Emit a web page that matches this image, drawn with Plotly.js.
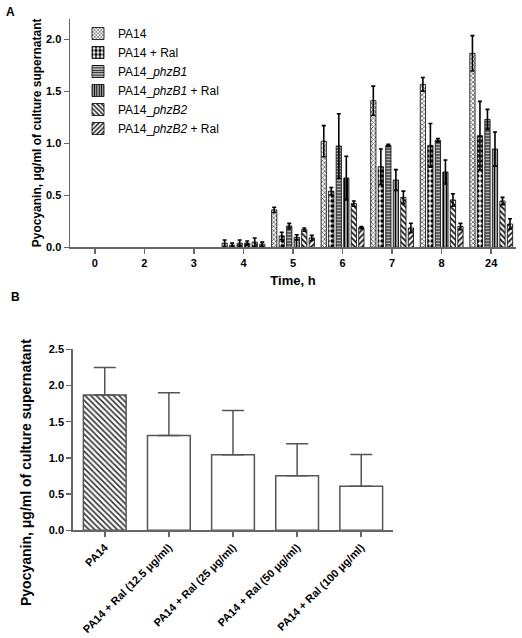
<!DOCTYPE html>
<html>
<head>
<meta charset="utf-8">
<script src="https://cdn.plot.ly/plotly-3.0.1.min.js"></script>
<style>html,body{margin:0;padding:0;background:#fff;}#chart{width:522px;height:638px;}</style>
</head>
<body>
<div id="chart"></div>
<script>
// Panel A data
const timeLabels = ["0", "2", "3", "4", "5", "6", "7", "8", "24"];
const pa14        = [null, null, null, 0.04, 0.36, 1.02, 1.41, 1.567, 1.865];
const pa14Err     = [null, null, null, 0.03, 0.025, 0.15, 0.14, 0.065, 0.17];
const pa14Ral     = [null, null, null, 0.02, 0.11, 0.54, 0.775, 0.98, 1.073];
const pa14RalErr  = [null, null, null, 0.02, 0.035, 0.035, 0.17, 0.21, 0.33];
const phzB1       = [null, null, null, 0.04, 0.205, 0.974, 0.98, 1.03, 1.23];
const phzB1Err    = [null, null, null, 0.03, 0.025, 0.31, 0.01, 0.016, 0.096];
const phzB1Ral    = [null, null, null, 0.04, 0.096, 0.666, 0.647, 0.724, 0.945];
const phzB1RalErr = [null, null, null, 0.02, 0.025, 0.21, 0.10, 0.115, 0.164];
const phzB2       = [null, null, null, 0.05, 0.17, 0.42, 0.48, 0.455, 0.445];
const phzB2Err    = [null, null, null, 0.04, 0.015, 0.025, 0.06, 0.06, 0.035];
const phzB2Ral    = [null, null, null, 0.03, 0.09, 0.19, 0.186, 0.20, 0.224];
const phzB2RalErr = [null, null, null, 0.02, 0.025, 0.01, 0.045, 0.03, 0.05];
const seriesNames = ["PA14", "PA14 + Ral", "PA14_<i>phzB1</i>", "PA14_<i>phzB1</i> + Ral",
                     "PA14_<i>phzB2</i>", "PA14_<i>phzB2</i> + Ral"];
const yTicksA = [0, 0.5, 1.0, 1.5, 2.0];
const yTickTextA = ["0.0", "0.5", "1.0", "1.5", "2.0"];

// Panel B data
const doseLabels = ["PA14", "PA14 + Ral (12.5 \u03BCg/ml)", "PA14 + Ral (25 \u03BCg/ml)",
                    "PA14 + Ral (50 \u03BCg/ml)", "PA14 + Ral (100 \u03BCg/ml)"];
const doseValues = [1.87, 1.31, 1.045, 0.755, 0.608];
const doseErr    = [0.38, 0.59, 0.61, 0.44, 0.44];
const yTicksB = [0, 0.5, 1.0, 1.5, 2.0, 2.5];
const yTickTextB = ["0.0", "0.5", "1.0", "1.5", "2.0", "2.5"];

const FONT = "Liberation Sans, Arial, sans-serif";
const W = 522, H = 638;
const px = v => v / W;
const py = v => 1 - v / H;

const seriesVals = [pa14, pa14Ral, phzB1, phzB1Ral, phzB2, phzB2Ral];
const seriesErrs = [pa14Err, pa14RalErr, phzB1Err, phzB1RalErr, phzB2Err, phzB2RalErr];
const patterns = [
  {shape: "x", size: 3, solidity: 0.4, fgcolor: "#444", bgcolor: "#fff"},
  {shape: ".", size: 5, solidity: 0.55, fgcolor: "#000", bgcolor: "#fff"},
  {shape: "-", size: 3, solidity: 0.55, fgcolor: "#111", bgcolor: "#fff"},
  {shape: "|", size: 3, solidity: 0.6, fgcolor: "#000", bgcolor: "#fff"},
  {shape: "\\", size: 4, solidity: 0.45, fgcolor: "#111", bgcolor: "#fff"},
  {shape: "/", size: 4, solidity: 0.45, fgcolor: "#111", bgcolor: "#fff"}
];

const traces = seriesVals.map((vals, i) => ({
  type: "bar",
  name: seriesNames[i],
  legendgroup: "g" + i,
  x: timeLabels,
  y: vals,
  xaxis: "x", yaxis: "y",
  marker: {color: "#fff", pattern: patterns[i], line: {color: "#000", width: 0.8}},
  error_y: {type: "data", array: seriesErrs[i], visible: true, color: "#000", thickness: 1.6, width: 2}
}));

traces.push({
  type: "bar",
  x: doseLabels,
  y: doseValues,
  xaxis: "x2", yaxis: "y2",
  width: 0.667,
  showlegend: false,
  marker: {
    color: "#fff",
    pattern: {shape: ["\\", "", "", "", ""], size: 4, solidity: 0.4, fgcolor: "#333", bgcolor: "#fff"},
    line: {color: "#555", width: 1.5}
  },
  error_y: {type: "data", symmetric: false, array: doseErr, arrayminus: [0, 0, 0, 0, 0],
            visible: true, color: "#555", thickness: 1.5, width: 11}
});

const axisCommon = {
  showline: true, linecolor: "#666", linewidth: 1.5,
  ticks: "outside", ticklen: 5, tickwidth: 1.5, tickcolor: "#666",
  showgrid: false, zeroline: false, automargin: false,
  tickfont: {family: FONT, size: 11, color: "#000", weight: "bold"}
};

const layout = {
  width: W, height: H,
  margin: {l: 0, r: 0, t: 0, b: 0},
  paper_bgcolor: "#fff", plot_bgcolor: "#fff",
  barmode: "group", bargap: 0.09, bargroupgap: 0.3,
  font: {family: FONT, color: "#000"},
  showlegend: true,
  legend: {
    x: px(78), y: py(19), xanchor: "left", yanchor: "top",
    bgcolor: "rgba(0,0,0,0)", traceorder: "grouped", tracegroupgap: 0,
    font: {family: FONT, size: 12, color: "#000"}
  },
  xaxis: Object.assign({}, axisCommon, {
    domain: [px(70), px(516)], anchor: "y", type: "category",
    range: [-0.5, 8.5],
    title: {text: "Time, h", font: {family: FONT, size: 13, weight: "bold", color: "#000"}, standoff: 8}
  }),
  yaxis: Object.assign({}, axisCommon, {
    domain: [py(247.3), py(18.5)], anchor: "x", range: [0, 2.2],
    tickvals: yTicksA, ticktext: yTickTextA,
    title: {text: "Pyocyanin, \u03BCg/ml of culture supernatant", font: {family: FONT, size: 12, weight: "bold", color: "#000"}, standoff: 2}
  }),
  xaxis2: Object.assign({}, axisCommon, {
    domain: [px(72.7), px(393.3)], anchor: "y2", type: "category",
    range: [-0.5, 4.5], tickangle: -45
  }),
  yaxis2: Object.assign({}, axisCommon, {
    domain: [py(530.3), py(349.3)], anchor: "x2", range: [0, 2.5],
    tickvals: yTicksB, ticktext: yTickTextB
  }),
  annotations: [
    {text: "<b>A</b>", xref: "paper", yref: "paper", x: px(10), y: py(12), xanchor: "center", yanchor: "middle",
     showarrow: false, font: {family: FONT, size: 12, color: "#000"}},
    {text: "<b>B</b>", xref: "paper", yref: "paper", x: px(15.5), y: py(297), xanchor: "center", yanchor: "middle",
     showarrow: false, font: {family: FONT, size: 12, color: "#000"}},
    {text: "<b>Pyocyanin, \u03BCg/ml of culture supernatant</b>", xref: "paper", yref: "paper",
     x: px(26), y: py(473), xanchor: "center", yanchor: "middle", textangle: -90,
     showarrow: false, font: {family: FONT, size: 14, color: "#000"}}
  ]
};

Plotly.newPlot("chart", traces, layout, {displayModeBar: false, staticPlot: true});
</script>
</body>
</html>
